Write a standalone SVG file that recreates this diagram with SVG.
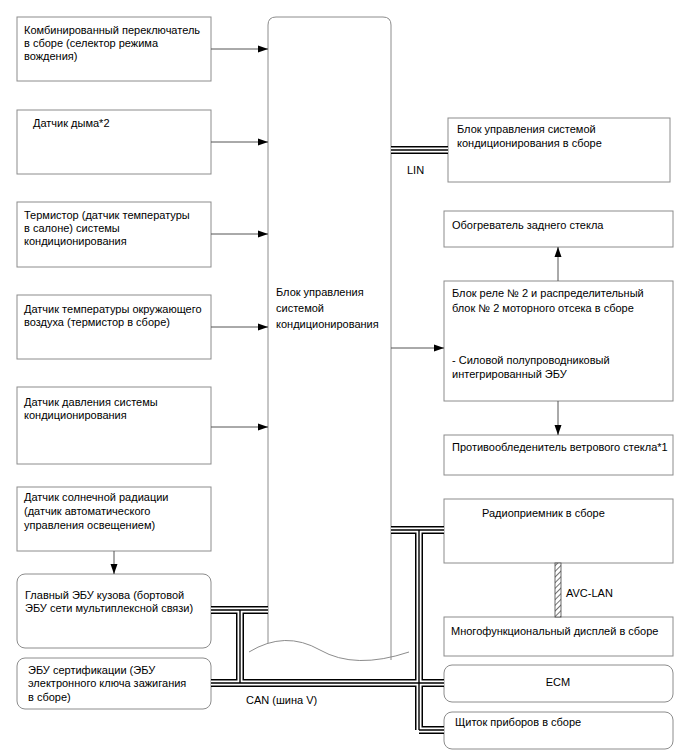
<svg xmlns="http://www.w3.org/2000/svg" width="688" height="755" viewBox="0 0 688 755">
<defs>
<marker id="ah" markerWidth="10" markerHeight="8" refX="10" refY="4" orient="auto" markerUnits="userSpaceOnUse">
<path d="M0,0.5 L10,4 L0,7.5 Z" fill="#000"/>
</marker>
<pattern id="hatch" width="4" height="4" patternUnits="userSpaceOnUse" patternTransform="rotate(45)">
<rect width="4" height="4" fill="#fff"/>
<line x1="0" y1="0" x2="0" y2="4" stroke="#444" stroke-width="1.5"/>
</pattern>
<style>
.box{fill:#fff;stroke:#8c8c8c;stroke-width:1}
.main{fill:none;stroke:#8c8c8c;stroke-width:1}
text{font-family:"Liberation Sans",Arial,sans-serif;font-size:11px;fill:#000}
.arr{stroke:#555;stroke-width:1;fill:none;marker-end:url(#ah)}
.b1{stroke:#000;stroke-width:8;fill:none}
.b2{stroke:#fff;stroke-width:5;fill:none}
.b3{stroke:#000;stroke-width:1.4;fill:none}
</style>
</defs>
<rect width="688" height="755" fill="#fff"/>

<g id="main">
<path class="main" d="M268,643 V25 Q268,17 276,17 H383 Q391,17 391,25 V660"/>
<path class="main" d="M249,652 Q285,630 320,650 T409,652"/>
<text x="276" y="296">Блок управления</text>
<text x="276" y="312">системой</text>
<text x="276" y="328">кондиционирования</text>
</g>

<g id="n1"><rect class="box" x="17" y="17" width="194" height="64"/>
<text x="24" y="34">Комбинированный переключатель</text>
<text x="24" y="47">в сборе (селектор режима</text>
<text x="24" y="60">вождения)</text></g>

<g id="n2"><rect class="box" x="17" y="110" width="194" height="64"/>
<text x="33" y="127">Датчик дыма*2</text></g>

<g id="n3"><rect class="box" x="17" y="202" width="194" height="65"/>
<text x="24" y="219">Термистор (датчик температуры</text>
<text x="24" y="232">в салоне) системы</text>
<text x="24" y="245">кондиционирования</text></g>

<g id="n4"><rect class="box" x="17" y="295" width="194" height="64"/>
<text x="24" y="313">Датчик температуры окружающего</text>
<text x="24" y="326">воздуха (термистор в сборе)</text></g>

<g id="n5"><rect class="box" x="17" y="387" width="194" height="77"/>
<text x="24" y="406">Датчик давления системы</text>
<text x="24" y="419">кондиционирования</text></g>

<g id="n6"><rect class="box" x="17" y="487" width="194" height="64"/>
<text x="24" y="501">Датчик солнечной радиации</text>
<text x="24" y="515">(датчик автоматического</text>
<text x="24" y="529">управления освещением)</text></g>

<g id="n7"><rect class="box" x="17" y="574" width="194" height="74" rx="8"/>
<text x="25" y="599">Главный ЭБУ кузова (бортовой</text>
<text x="25" y="612">ЭБУ сети мультиплексной связи)</text></g>

<g id="n8"><rect class="box" x="17" y="658" width="194" height="51" rx="8"/>
<text x="28" y="674">ЭБУ сертификации (ЭБУ</text>
<text x="28" y="687">электронного ключа зажигания</text>
<text x="28" y="701">в сборе)</text></g>

<g id="r1"><rect class="box" x="448" y="118" width="222" height="64"/>
<text x="457" y="133">Блок управления системой</text>
<text x="457" y="147">кондиционирования в сборе</text></g>

<g id="r2"><rect class="box" x="444" y="211" width="229" height="36"/>
<text x="452" y="229">Обогреватель заднего стекла</text></g>

<g id="r3"><rect class="box" x="444" y="281" width="229" height="120"/>
<text x="452" y="297">Блок реле № 2 и распределительный</text>
<text x="452" y="312">блок № 2 моторного отсека в сборе</text>
<text x="452" y="364">- Силовой полупроводниковый</text>
<text x="452" y="378">интегрированный ЭБУ</text></g>

<g id="r4"><rect class="box" x="444" y="435" width="229" height="40"/>
<text x="452" y="451">Противообледенитель ветрового стекла*1</text></g>

<g id="r5"><rect class="box" x="444" y="499" width="229" height="64"/>
<text x="482" y="517">Радиоприемник в сборе</text></g>

<g id="r6"><rect class="box" x="444" y="617" width="229" height="39"/>
<text x="451" y="635">Многофункциональный дисплей в сборе</text></g>

<g id="r7"><rect class="box" x="444" y="665" width="229" height="37" rx="8"/>
<text x="558" y="686" text-anchor="middle">ECM</text></g>

<g id="r8"><rect class="box" x="444" y="712" width="229" height="37" rx="8"/>
<text x="455" y="726">Щиток приборов в сборе</text></g>

<g id="connectors">
<line class="arr" x1="211" y1="49" x2="268" y2="49"/>
<line class="arr" x1="211" y1="142" x2="268" y2="142"/>
<line class="arr" x1="211" y1="234" x2="268" y2="234"/>
<line class="arr" x1="211" y1="327" x2="268" y2="327"/>
<line class="arr" x1="211" y1="427" x2="268" y2="427"/>
<line class="arr" x1="114" y1="551" x2="114" y2="574"/>
<line class="arr" x1="391" y1="348" x2="444" y2="348"/>
<line class="arr" x1="558" y1="281" x2="558" y2="247"/>
<line class="arr" x1="558" y1="401" x2="558" y2="435"/>

<rect x="555" y="563" width="6" height="54" fill="url(#hatch)" stroke="#444" stroke-width="0.8"/>
<text x="566" y="597">AVC-LAN</text>

<g id="buses">
<path class="b1" d="M391,150 H448"/>
<path class="b1" d="M211,610 H268 M240,610 V683 M211,683 H444 M419,530 V730 M391,530 H444 M419,730 H444"/>
<path class="b2" d="M391,150 H448"/>
<path class="b2" d="M211,610 H268 M240,610 V683 M211,683 H444 M419,530 V730 M391,530 H444 M419,730 H444"/>
<path class="b3" d="M391,150 H448"/>
<path class="b3" d="M211,610 H268 M240,610 V683 M211,683 H444 M419,530 V730 M391,530 H444 M419,730 H444"/>
</g>
<text x="407" y="174">LIN</text>
<text x="246" y="704">CAN (шина V)</text>
</g>
</svg>
